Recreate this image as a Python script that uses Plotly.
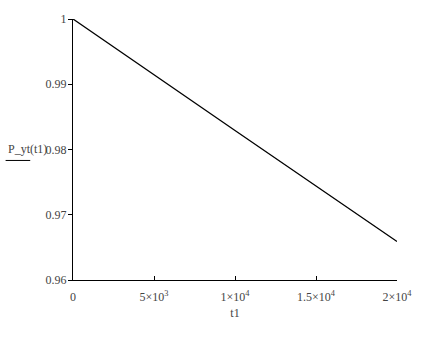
import plotly.graph_objects as go

t1 = [0, 5000, 10000, 15000, 20000]
P_yt = [1.0, 0.9914, 0.9829, 0.9744, 0.9659]

x_tickvals = [0, 5000, 10000, 15000, 20000]
x_ticktext = ["0", "5×10<sup>3</sup>", "1×10<sup>4</sup>", "1.5×10<sup>4</sup>", "2×10<sup>4</sup>"]
y_tickvals = [0.96, 0.97, 0.98, 0.99, 1.0]
y_ticktext = ["0.96", "0.97", "0.98", "0.99", "1"]

font = dict(family="Liberation Serif", size=12, color="#444444")

fig = go.Figure()
fig.add_trace(go.Scatter(x=t1, y=P_yt, mode="lines", line=dict(color="black", width=1.3), showlegend=False))

fig.update_layout(
    width=439, height=337,
    margin=dict(l=73, r=42, t=16, b=57),
    paper_bgcolor="white", plot_bgcolor="white",
    font=font,
    xaxis=dict(range=[0, 20000], tickvals=x_tickvals, ticktext=x_ticktext,
               showgrid=False, zeroline=False, showline=True, linecolor="black", linewidth=1.3,
               ticks="inside", ticklen=4, tickcolor="black", ticklabelstandoff=5,
               title=dict(text="t1", font=font, standoff=6)),
    yaxis=dict(range=[0.96, 1.0], tickvals=y_tickvals, ticktext=y_ticktext,
               showgrid=False, zeroline=False, showline=True, linecolor="black", linewidth=1.3,
               ticks="outside", ticklen=4, tickcolor="black", ticklabelstandoff=-1),
)
fig.add_annotation(text="P_yt(t1)", xref="paper", yref="paper", x=-0.207, y=0.502,
                   xanchor="left", yanchor="middle", showarrow=False, font=font)
fig.add_shape(type="line", xref="paper", yref="paper", x0=-0.208, x1=-0.132, y0=0.458, y1=0.458,
              line=dict(color="black", width=1))
fig.write_html("out.html")
